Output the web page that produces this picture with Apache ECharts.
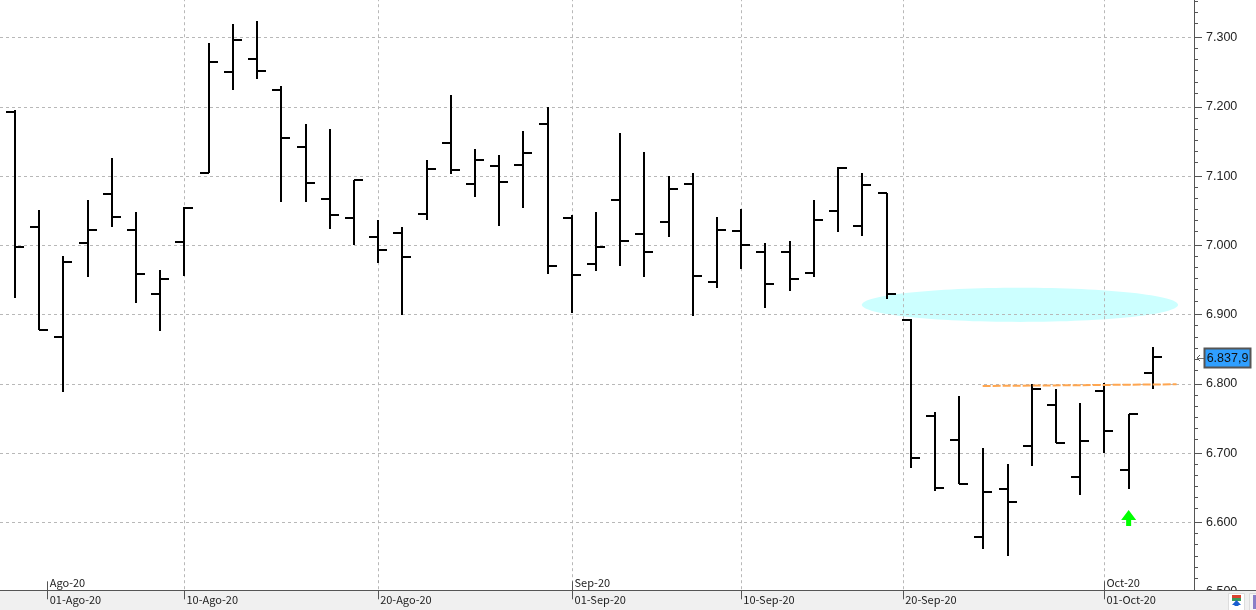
<!DOCTYPE html>
<html>
<head>
<meta charset="utf-8">
<title>OHLC</title>
<style>
html, body { margin: 0; padding: 0; background: #fff; }
#main { width: 1256px; height: 610px; }
</style>
<script src="https://cdn.jsdelivr.net/npm/echarts@6/dist/echarts.min.js"></script>
</head>
<body>
<div id="main"></div>
<script>
// sessions, one bar each
var sessions = ['30-Jul','31-Jul','03-Ago','04-Ago','05-Ago','06-Ago','07-Ago','10-Ago','11-Ago','12-Ago','13-Ago','14-Ago',
  '17-Ago','18-Ago','19-Ago','20-Ago','21-Ago','24-Ago','25-Ago','26-Ago','27-Ago','28-Ago','31-Ago','01-Sep',
  '02-Sep','03-Sep','04-Sep','07-Sep','08-Sep','09-Sep','10-Sep','11-Sep','14-Sep','15-Sep','16-Sep','17-Sep',
  '18-Sep','21-Sep','22-Sep','23-Sep','24-Sep','25-Sep','28-Sep','29-Sep','30-Sep','01-Oct','02-Oct','05-Oct'];
var opens = [7192,7026,6868,7003,7074,7022,6930,7005,7104,7250,7269,7224,
  7142,7067,7039,7012,7018,7045,7148,7089,7114,7116,7175,7039,
  6973,7065,7016,7034,7089,6947,7021,6990,6990,6960,7050,7028,
  7075,6893,6754,6719,6579,6648,6711,6770,6665,6790,6676,6816];
var highs = [7195,7051,6984,7066,7126,7048,6964,7055,7292,7319,7324,7230,
  7175,7168,7094,7036,7027,7123,7217,7139,7131,7165,7200,7044,
  7048,7162,7135,7100,7104,7041,7052,7003,7007,7065,7113,7104,
  7076,6894,6759,6782,6707,6684,6800,6792,6773,6802,6756,6853];
var lows = [6924,6878,6788,6955,7027,6917,6877,6956,7104,7224,7240,7063,
  7063,7024,7001,6975,6900,7037,7103,7070,7028,7054,6959,6902,
  6963,6970,6954,7012,6898,6938,6966,6910,6934,6954,7019,7013,
  6923,6679,6646,6656,6562,6552,6681,6715,6640,6700,6649,6793];
var closes = [6998,6878,6976,7022,7041,6959,6951,7054,7265,7296,7252,7155,
  7090,7044,7094,6993,6983,7110,7109,7123,7091,7133,6970,6957,
  6998,7006,6990,7081,6956,7022,7000,6944,6951,7037,7112,7087,
  6930,6693,6650,6656,6644,6630,6793,6715,6718,6732,6756,6839];
var lastPrice = 6837.9;

// x axis marks, in bar positions (weekend dates fall between bars)
var dateTicks = [1.35, 7, 15, 23.03, 30, 36.69, 45];
var dateLabels = ['01-Ago-20','10-Ago-20','20-Ago-20','01-Sep-20','10-Sep-20','20-Sep-20','01-Oct-20'];
var gridTicks = [7, 15, 23.03, 30, 36.69, 45];
var monthTicks = [1.35, 23.03, 45];
var monthLabels = ['Ago-20','Sep-20','Oct-20'];

// drawn objects on the chart
var zoneX = [34.98, 48.04];
var zoneY = [6889.5, 6939];
var supportLine = [[39.97, 6797], [47.98, 6799.5]];
var signalArrow = [[46, 6606.5]];

var xMin = -0.62, xMax = 48.7;
var yMin = 6400, yMax = 7400;

var minorTicks = [];
for (var m = yMin; m <= yMax; m += 100) {
    for (var k = 1; k <= 5; k++) minorTicks.push(m - 16 * k);
}
var dateLookup = {};
dateTicks.forEach(function(t, i) { dateLookup[t] = dateLabels[i]; });
var monthLookup = {};
monthTicks.forEach(function(t, i) { monthLookup[t] = monthLabels[i]; });

var ohlc = sessions.map(function(s, i) {
    return [i, opens[i], highs[i], lows[i], closes[i]];
});

function renderBar(params, api) {
    var x = Math.round(api.coord([api.value(0), 0])[0]);
    var yO = Math.round(api.coord([0, api.value(1)])[1]);
    var yH = Math.round(api.coord([0, api.value(2)])[1]);
    var yL = Math.round(api.coord([0, api.value(3)])[1]);
    var yC = Math.round(api.coord([0, api.value(4)])[1]);
    var st = { fill: '#000' };
    return {
        type: 'group',
        children: [
            { type: 'rect', shape: { x: x - 1, y: yH, width: 2, height: yL - yH }, style: st },
            { type: 'rect', shape: { x: x - 9, y: yO - 1, width: 9, height: 2 }, style: st },
            { type: 'rect', shape: { x: x, y: yC - 1, width: 9, height: 2 }, style: st }
        ]
    };
}

function renderZone(params, api) {
    var a = api.coord([zoneX[0], zoneY[1]]);
    var b = api.coord([zoneX[1], zoneY[0]]);
    return {
        type: 'ellipse',
        shape: { cx: (a[0] + b[0]) / 2, cy: (a[1] + b[1]) / 2, rx: (b[0] - a[0]) / 2, ry: (b[1] - a[1]) / 2 },
        style: { fill: '#ccffff' }
    };
}

function renderPriceTag(params, api) {
    var p = api.coord([xMax, api.value(1)]);
    var y = Math.round(p[1]);
    return {
        type: 'group',
        children: [
            { type: 'polyline', shape: { points: [[p[0] + 6, y - 3], [p[0] + 3, y], [p[0] + 6, y + 3]] }, style: { stroke: '#555', fill: null, lineWidth: 1 } },
            { type: 'line', shape: { x1: p[0] + 3, y1: y + 0.5, x2: p[0] + 10, y2: y + 0.5 }, style: { stroke: '#777', lineWidth: 1 } },
            { type: 'rect', shape: { x: p[0] + 10.5, y: y - 9.5, width: 46, height: 19 }, style: { fill: '#2f9fff', stroke: '#555', lineWidth: 2 } },
            { type: 'text', style: { x: p[0] + 33.5, y: y + 1, text: '6.837,9', fill: '#111', font: '12.5px "Liberation Sans"', textAlign: 'center', textVerticalAlign: 'middle' } }
        ]
    };
}

var myChart = echarts.init(document.getElementById('main'));

var option = {
    animation: false,
    backgroundColor: '#fff',
    grid: { left: 0, right: 62, top: -31.8, bottom: -51.1, outerBoundsMode: 'none' },
    xAxis: [{
        // dashed verticals
        type: 'value', position: 'bottom', min: xMin, max: xMax, offset: -70.8,
        axisLine: { show: false, onZero: false },
        axisLabel: { show: false },
        axisTick: { show: false, customValues: gridTicks },
        splitLine: { show: true, lineStyle: { color: '#b8b8b8', type: [3, 3], width: 1 } }
    }, {
        // day labels below the axis
        type: 'value', position: 'bottom', min: xMin, max: xMax, offset: -70.8, z: 3,
        axisLine: { show: false, onZero: false },
        splitLine: { show: false },
        axisTick: { show: true, length: 9, customValues: dateTicks, lineStyle: { color: '#555' } },
        axisLabel: {
            show: true, customValues: dateTicks, margin: 4, align: 'left', padding: [0, 0, 0, 2],
            color: '#222', fontFamily: 'Noto Sans CJK KR', fontSize: 11,
            formatter: function(v) { return dateLookup[v] || ''; }
        }
    }, {
        // month labels above the axis
        type: 'value', position: 'bottom', min: xMin, max: xMax, offset: -70.8, z: 3,
        axisLine: { show: false, onZero: false },
        splitLine: { show: false },
        axisTick: { show: true, inside: true, length: 9, customValues: monthTicks, lineStyle: { color: '#555' } },
        axisLabel: {
            show: true, inside: true, customValues: monthTicks, margin: 2, align: 'left', padding: [0, 0, 0, 2],
            color: '#222', fontFamily: 'Noto Sans CJK KR', fontSize: 11,
            formatter: function(v) { return monthLookup[v] || ''; }
        }
    }],
    yAxis: [{
        type: 'value', position: 'right', min: yMin, max: yMax, interval: 100,
        axisLine: { show: true, onZero: false, lineStyle: { color: '#555', width: 1 } },
        axisTick: { show: true, length: 8, lineStyle: { color: '#555' } },
        axisLabel: {
            margin: 12, color: '#222', fontFamily: 'Liberation Sans', fontSize: 12.5, padding: [2, 0, 0, 0],
            formatter: function(v) { return (v / 1000).toFixed(3); }
        },
        splitLine: { show: true, lineStyle: { color: '#b8b8b8', type: [3, 3], width: 1 } }
    }, {
        type: 'value', position: 'right', min: yMin, max: yMax,
        axisLine: { show: false, onZero: false },
        axisLabel: { show: false },
        splitLine: { show: false },
        axisTick: { show: true, length: 4, customValues: minorTicks, lineStyle: { color: '#555' } }
    }],
    graphic: [
        { type: 'rect', z: 1, shape: { x: 0, y: 590, width: 1256, height: 20 }, style: { fill: '#f0f0f0' } },
        { type: 'line', z: 2, shape: { x1: 0, y1: 590.5, x2: 1256, y2: 590.5 }, style: { stroke: '#555', lineWidth: 1 } },
        { type: 'rect', z: 2, shape: { x: 1228.5, y: 593.5, width: 16, height: 17 }, style: { fill: '#fff', stroke: '#ddd', lineWidth: 1 } },
        { type: 'rect', z: 2, shape: { x: 1232, y: 595, width: 9, height: 3 }, style: { fill: '#d9432f' } },
        { type: 'rect', z: 2, shape: { x: 1232, y: 598, width: 9, height: 3 }, style: { fill: '#3b9a5b' } },
        { type: 'polygon', z: 2, shape: { points: [[1236.5, 600], [1241, 605], [1238.5, 605], [1238.5, 606], [1234.5, 606], [1234.5, 605], [1232, 605]] }, style: { fill: '#1a5fd0' } },
        { type: 'rect', z: 2, shape: { x: 1249.5, y: 593.5, width: 8, height: 17 }, style: { fill: '#f6f6f6', stroke: '#ddd', lineWidth: 1 } },
        { type: 'rect', z: 2, shape: { x: 1253, y: 595, width: 3, height: 14 }, style: { fill: '#8a7fc8' } }
    ],
    series: [{
        type: 'custom', name: 'zone', z: -1, silent: true,
        renderItem: renderZone,
        data: [[zoneX[0], zoneY[0]]]
    }, {
        type: 'custom', name: 'ohlc', z: 2, silent: true,
        renderItem: renderBar,
        encode: { x: 0, y: [1, 2, 3, 4] },
        data: ohlc
    }, {
        type: 'line', name: 'support', z: 3, silent: true,
        symbol: 'none',
        lineStyle: { color: '#ffa650', width: 2, type: [8, 2] },
        data: supportLine
    }, {
        type: 'scatter', name: 'signal', z: 3, silent: true,
        symbol: 'path://M7.5 0 L15 10 L10 10 L10 16 L5 16 L5 10 L0 10 Z',
        symbolSize: [15, 16],
        itemStyle: { color: '#00ff00', opacity: 1 },
        data: signalArrow
    }, {
        type: 'custom', name: 'last', z: 3, silent: true,
        renderItem: renderPriceTag,
        data: [[sessions.length - 1, lastPrice]]
    }]
};

myChart.setOption(option);
</script>
</body>
</html>
